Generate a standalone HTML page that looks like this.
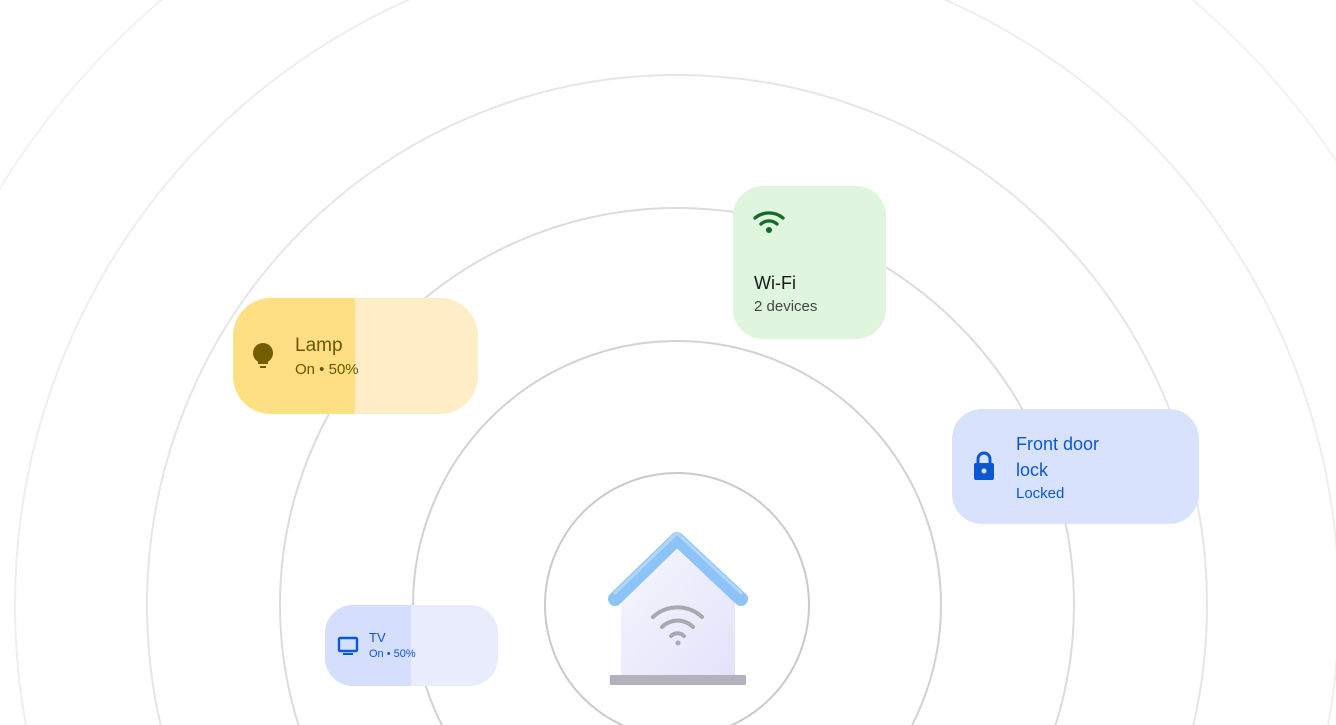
<!DOCTYPE html>
<html style="overflow:hidden;height:725px"><head><style>
html,body{margin:0;width:1336px;height:725px;overflow:hidden}
body{background:#fff;font-family:"Liberation Sans",sans-serif;position:relative}
svg{position:absolute;left:0;top:0}
.card{position:absolute;overflow:hidden}
.t{position:absolute;white-space:nowrap}
</style></head><body>
<svg width="1336" height="725">
<g fill="none" stroke-width="2">
<circle cx="677" cy="605" r="132" stroke="#cacace"/>
<circle cx="677" cy="605" r="264" stroke="#d2d2d6"/>
<circle cx="677" cy="605" r="397" stroke="#dcdcdf"/>
<circle cx="677" cy="605" r="530" stroke="#e6e6e8"/>
<circle cx="677" cy="605" r="662" stroke="#eeeeef"/>
<circle cx="677" cy="605" r="795" stroke="#f3f3f4"/>
</g>
<defs><linearGradient id="hg" x1="0" y1="0" x2="1" y2="1"><stop offset="0" stop-color="#f6f6fd"/><stop offset="1" stop-color="#e2e3fa"/></linearGradient></defs>
<polygon points="621,602 677,550 735,602 735,676 621,676" fill="url(#hg)"/>
<polyline points="615,599 677,539 741,599" fill="none" stroke="#8ec3f7" stroke-width="14" stroke-linejoin="round" stroke-linecap="round"/>
<polyline points="615,593 677,533 741,593" fill="none" stroke="#b9dcfb" stroke-width="3" stroke-linejoin="round" stroke-linecap="round" opacity="0.8"/>
<rect x="610" y="675" width="136" height="10" fill="#b3b2bc"/>
<g fill="none" stroke="#a8a8ae" stroke-width="4" stroke-linecap="round">
<path d="M653,617 A36,36 0 0 1 702,617"/>
<path d="M662,627 A22,22 0 0 1 693,627"/>
<path d="M671,636 A9,9 0 0 1 684,636"/>
</g>
<circle cx="678" cy="643" r="2.5" fill="#a8a8ae"/>
</svg>

<div class="card" style="left:233px;top:298px;width:245px;height:116px;border-radius:38px;background:#feedc6">
<div style="position:absolute;left:0;top:0;width:122px;height:116px;background:#fedf83"></div>
<svg width="30" height="30" style="left:16px;top:43px"><circle cx="14" cy="12" r="10" fill="#745c00"/><rect x="9" y="21" width="10" height="2" fill="#745c00"/><rect x="11" y="25" width="6" height="2" fill="#745c00"/></svg>
<div class="t" style="left:62px;top:37px;font-size:19px;color:#6b5500">Lamp</div>
<div class="t" style="left:62px;top:63px;font-size:15px;color:#6b5500">On • 50%</div>
</div>

<div class="card" style="left:733px;top:186px;width:153px;height:153px;border-radius:30px;background:#dff5de">
<svg width="40" height="30" style="left:20px;top:23px"><g fill="none" stroke="#156c2a" stroke-width="3.4" stroke-linecap="round"><path d="M2,9 A22,22 0 0 1 30,9"/><path d="M8,15 A12,12 0 0 1 24,15"/></g><circle cx="16" cy="21" r="3" fill="#156c2a"/></svg>
<div class="t" style="left:21px;top:87px;font-size:18px;color:#1a1a1a">Wi-Fi</div>
<div class="t" style="left:21px;top:112px;font-size:15px;color:#444">2 devices</div>
</div>

<div class="card" style="left:952px;top:409px;width:247px;height:115px;border-radius:30px;background:#d9e2fd">
<svg width="30" height="34" style="left:18px;top:41px"><path d="M8,13 V9 A6,6 0 0 1 20,9 V13" fill="none" stroke="#0b57d0" stroke-width="3"/><rect x="4" y="13" width="20" height="17" rx="2" fill="#0b57d0"/><circle cx="14" cy="21" r="2.5" fill="#d9e2fd"/></svg>
<div class="t" style="left:64px;top:22px;font-size:18px;color:#0b57d0;line-height:26px">Front door<br>lock</div>
<div class="t" style="left:64px;top:76px;font-size:15px;color:#0b57d0">Locked</div>
</div>

<div class="card" style="left:325px;top:605px;width:173px;height:81px;border-radius:28px;background:#e8ecfd">
<div style="position:absolute;left:0;top:0;width:86px;height:81px;background:#d5defd"></div>
<svg width="24" height="24" style="left:12px;top:30px"><rect x="2" y="3" width="18" height="13" rx="1" fill="none" stroke="#0b57d0" stroke-width="2.4"/><rect x="6" y="18" width="10" height="2" fill="#0b57d0"/></svg>
<div class="t" style="left:44px;top:25px;font-size:13px;color:#0b57d0">TV</div>
<div class="t" style="left:44px;top:43px;font-size:11px;color:#0b57d0">On • 50%</div>
</div>
</body></html>
